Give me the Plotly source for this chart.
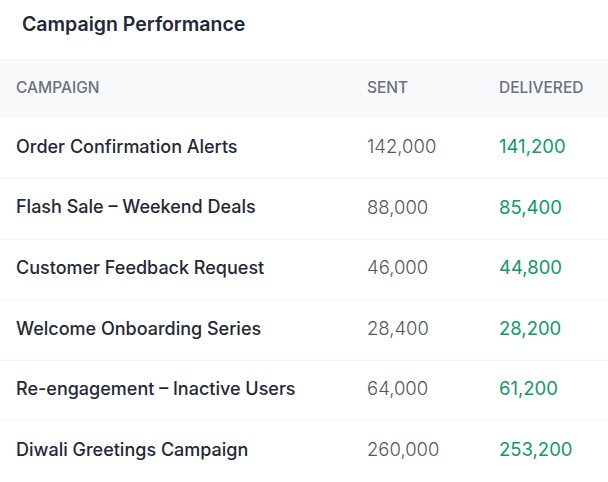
import plotly.graph_objects as go

# table contents
headers = ["CAMPAIGN", "SENT", "DELIVERED"]
campaigns = [
    "Order Confirmation Alerts",
    "Flash Sale – Weekend Deals",
    "Customer Feedback Request",
    "Welcome Onboarding Series",
    "Re-engagement – Inactive Users",
    "Diwali Greetings Campaign",
]
sent = [142000, 88000, 46000, 28400, 64000, 260000]
delivered = [141200, 85400, 44800, 28200, 61200, 253200]

W, H = 608, 482
head_top, head_bot = 60, 118
row_h = 60.6
col_x = [16, 367, 499]
font = "Inter"

rows_y = [head_bot + (i + 0.5) * row_h for i in range(len(campaigns))]

fig = go.Figure()

# header labels
fig.add_trace(go.Scatter(
    x=col_x, y=[(head_top + head_bot) / 2] * len(headers),
    text=headers, mode="text", textposition="middle right",
    textfont=dict(family=font, size=15.5, color="#6b7280", weight=500),
    hoverinfo="skip"))

fig.add_trace(go.Scatter(
    x=[col_x[0]] * len(campaigns), y=rows_y, text=campaigns,
    mode="text", textposition="middle right",
    textfont=dict(family=font, size=18, color="#1f2937", weight=500),
    hoverinfo="skip"))

fig.add_trace(go.Scatter(
    x=[col_x[1]] * len(sent), y=rows_y, text=[f"{v:,}" for v in sent],
    mode="text", textposition="middle right",
    textfont=dict(family=font, size=18.5, color="#52575f", weight=300),
    hoverinfo="skip"))

fig.add_trace(go.Scatter(
    x=[col_x[2]] * len(delivered), y=rows_y, text=[f"{v:,}" for v in delivered],
    mode="text", textposition="middle right",
    textfont=dict(family=font, size=18.5, color="#0f9a66", weight=400),
    hoverinfo="skip"))

# header band + row separators
fig.add_shape(type="rect", x0=0, x1=W, y0=head_top, y1=head_bot,
              fillcolor="#f8fafc", line=dict(width=0), layer="below")
fig.add_shape(type="line", x0=0, x1=W, y0=head_top, y1=head_top,
              line=dict(color="#eef1f4", width=1), layer="below")
for i in range(1, len(campaigns)):
    yy = head_bot + i * row_h
    fig.add_shape(type="line", x0=0, x1=W, y0=yy, y1=yy,
                  line=dict(color="#f1f3f5", width=1), layer="below")

fig.update_layout(
    width=W, height=H,
    margin=dict(l=0, r=0, t=0, b=0),
    paper_bgcolor="white", plot_bgcolor="white",
    showlegend=False,
    title=dict(text="Campaign Performance", x=22 / W, xanchor="left",
               y=1 - 24 / H, yanchor="middle",
               font=dict(family=font, size=19.5, color="#1e293b", weight=600)),
    xaxis=dict(range=[0, W], visible=False, fixedrange=True),
    yaxis=dict(range=[H, 0], visible=False, fixedrange=True),
)

fig.write_html("out.html", config={"displayModeBar": False},
               post_script="document.body.style.margin='0';")
